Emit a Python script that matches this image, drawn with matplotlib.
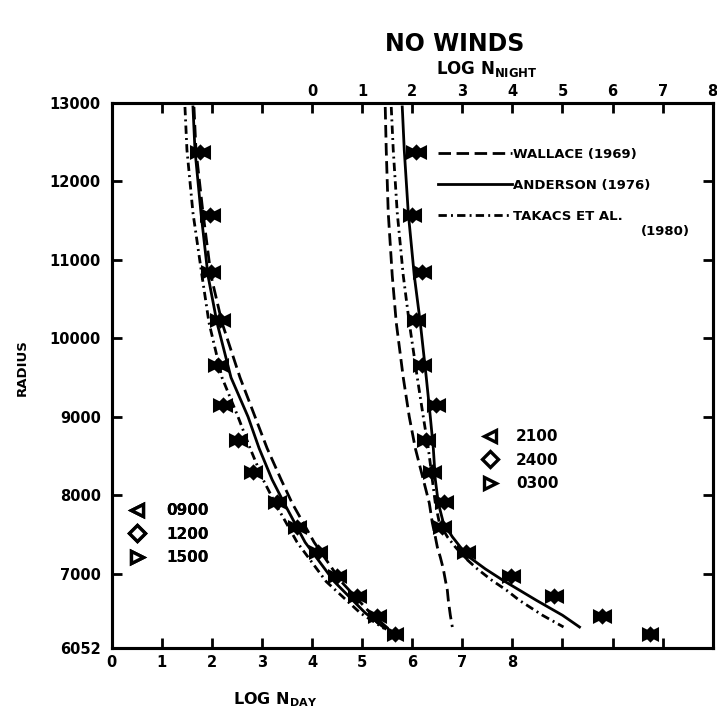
import matplotlib
matplotlib.use("Agg")
import matplotlib.pyplot as plt

plt.rcParams['font.family'] = ['DejaVu Sans']
plt.rcParams['font.weight'] = 'bold'
plt.rcParams['mathtext.fontset'] = 'dejavusans'

# ---------------- data ----------------
# model curves, day side (bottom axis: LOG N_DAY)
day_curve_radius = [12950, 12400, 11600, 10800, 10200, 9500, 9000, 8600, 8200, 7900, 7400, 6900, 6500, 6300]
day_wallace  = [1.64, 1.68, 1.82, 1.98, 2.20, 2.56, 2.86, 3.10, 3.38, 3.60, 4.04, 4.58, 5.16, 5.52]
day_anderson = [1.62, 1.66, 1.78, 1.92, 2.10, 2.38, 2.72, 2.94, 3.20, 3.44, 3.86, 4.44, 5.06, 5.46]
day_takacs   = [1.46, 1.50, 1.62, 1.80, 1.94, 2.20, 2.52, 2.76, 3.02, 3.26, 3.70, 4.28, 4.96, 5.44]

# model curves, night side (top axis: LOG N_NIGHT)
night_curve_radius = [12950, 12400, 11600, 10800, 10200, 9500, 9000, 8600, 8200, 7900, 7650, 7470,
                      7340, 7210, 7060, 6920, 6790, 6660, 6470, 6320]
night_wallace  = [1.46, 1.48, 1.52, 1.60, 1.68, 1.82, 1.94, 2.06, 2.22, 2.34, 2.40, 2.46,
                  2.50, 2.56, 2.62, 2.66, 2.70, 2.72, 2.76, 2.80]
night_anderson = [1.80, 1.84, 1.92, 2.04, 2.16, 2.28, 2.36, 2.42, 2.46, 2.52, 2.62, 2.80,
                  2.96, 3.14, 3.46, 3.80, 4.14, 4.48, 5.00, 5.34]
night_takacs   = [1.58, 1.62, 1.70, 1.82, 1.94, 2.10, 2.22, 2.32, 2.40, 2.46, 2.54, 2.70,
                  2.86, 3.04, 3.30, 3.58, 3.88, 4.14, 4.60, 5.02]

# observed points (radius levels shared by all local times)
obs_radius = [12380, 11570, 10840, 10240, 9660, 9150, 8700, 8290, 7920, 7600, 7280, 6975, 6715, 6460, 6235]
day_0900 = [1.84, 2.04, 2.04, 2.24, 2.20, 2.28, 2.58, 2.88, 3.36, 3.76, 4.18, 4.56, 4.96, 5.36, 5.70]
day_1200 = [1.76, 1.96, 1.98, 2.16, 2.12, 2.22, 2.52, 2.82, 3.30, 3.70, 4.12, 4.50, 4.90, 5.30, 5.66]
day_1500 = [1.68, 1.88, 1.90, 2.08, 2.04, 2.14, 2.46, 2.76, 3.24, 3.64, 4.06, 4.44, 4.84, 5.24, 5.62]
night_2100 = [2.16, 2.06, 2.26, 2.14, 2.26, 2.54, 2.34, 2.46, 2.70, 2.66, 3.14, 4.04, 4.90, 5.84, 6.78]
night_2400 = [2.08, 2.00, 2.20, 2.08, 2.20, 2.48, 2.28, 2.40, 2.64, 2.60, 3.08, 3.98, 4.84, 5.78, 6.74]
night_0300 = [2.00, 1.94, 2.14, 2.02, 2.14, 2.42, 2.22, 2.34, 2.58, 2.54, 3.02, 3.92, 4.78, 5.72, 6.70]

model_labels = ["WALLACE (1969)", "ANDERSON (1976)", "TAKACS ET AL."]
model_label_extra = "(1980)"
day_labels = ["0900", "1200", "1500"]
night_labels = ["2100", "2400", "0300"]

y_ticks = [6052, 7000, 8000, 9000, 10000, 11000, 12000, 13000]
y_tick_labels = ["6052", "7000", "8000", "9000", "10000", "11000", "12000", "13000"]
bottom_ticks = list(range(0, 13))
bottom_tick_labels = ["0", "1", "2", "3", "4", "5", "6", "7", "8", "", "", "", ""]
top_ticks = list(range(-4, 9))
top_tick_labels = ["", "", "", "", "0", "1", "2", "3", "4", "5", "6", "7", "8"]

# ---------------- styles ----------------
LW = 2.0
ST_WALLACE = (0, (4.5, 2.0))
ST_ANDERSON = '-'
ST_TAKACS = (0, (3.0, 1.5, 0.7, 1.5))
MS = 7.5
MEW = 2.2

fig = plt.figure(figsize=(7.17, 7.19), dpi=100)
ax = fig.add_axes([0.156, 0.0987, 0.838, 0.758])
ax.set_xlim(0, 12)
ax.set_ylim(6052, 13000)
ax2 = ax.twiny()
ax2.set_xlim(-4, 8)

for a in (ax, ax2):
    for s in a.spines.values():
        s.set_linewidth(2.2)

# day curves
ax.plot(day_wallace, day_curve_radius, color='black', lw=LW, linestyle=ST_WALLACE)
ax.plot(day_anderson, day_curve_radius, color='black', lw=LW, linestyle=ST_ANDERSON)
ax.plot(day_takacs, day_curve_radius, color='black', lw=LW, linestyle=ST_TAKACS)
# night curves
h_w, = ax2.plot(night_wallace, night_curve_radius, color='black', lw=LW, linestyle=ST_WALLACE)
h_a, = ax2.plot(night_anderson, night_curve_radius, color='black', lw=LW, linestyle=ST_ANDERSON)
h_t, = ax2.plot(night_takacs, night_curve_radius, color='black', lw=LW, linestyle=ST_TAKACS)

mk = dict(linestyle='none', color='black', mfc='black', mec='black', ms=MS, mew=MEW, zorder=5)
d1, = ax.plot(day_0900, obs_radius, marker='<', **mk)
d2, = ax.plot(day_1200, obs_radius, marker='D', **dict(mk, ms=MS - 1.5))
d3, = ax.plot(day_1500, obs_radius, marker='>', **mk)
n1, = ax2.plot(night_2100, obs_radius, marker='<', **mk)
n2, = ax2.plot(night_2400, obs_radius, marker='D', **dict(mk, ms=MS - 1.5))
n3, = ax2.plot(night_0300, obs_radius, marker='>', **mk)

# ticks
ax.set_xticks(bottom_ticks)
ax.set_xticklabels(bottom_tick_labels)
ax.set_yticks(y_ticks)
ax.set_yticklabels(y_tick_labels)
ax.tick_params(axis='both', direction='in', length=7, width=2, labelsize=10.5)
ax.tick_params(axis='x', pad=5)
ax.tick_params(axis='y', right=True, pad=8)
ax2.set_xticks(top_ticks)
ax2.set_xticklabels(top_tick_labels)
ax2.tick_params(axis='x', direction='in', length=7, width=2, labelsize=10.5, pad=3)

# axis titles
fig.text(455 / 717, 1 - 44 / 719, "NO WINDS", ha='center', va='center', fontsize=17, fontweight='bold')
fig.text(487 / 717, 1 - 69 / 719, r"LOG N$_{\mathbf{NIGHT}}$", ha='center', va='center', fontsize=12, fontweight='bold')
fig.text(275 / 717, 1 - 700 / 719, r"LOG N$_{\mathbf{DAY}}$", ha='center', va='center', fontsize=11.5, fontweight='bold')
fig.text(22 / 717, 1 - 368 / 719, "RADIUS", ha='center', va='center', rotation=90, fontsize=9.5, fontweight='bold')

# legends
leg1 = ax2.legend([h_w, h_a, h_t], model_labels, loc='upper left',
                  bbox_to_anchor=((438 - 112) / 601, (648 - 148) / 545),
                  frameon=False, fontsize=9.5, handlelength=5.6, handletextpad=0.1,
                  labelspacing=1.35, borderpad=0, borderaxespad=0)
for l in leg1.get_lines():
    l.set_linewidth(LW)
ax2.add_artist(leg1)
ax2.text((690 - 112) / 601, (648 - 231) / 545, model_label_extra, transform=ax2.transAxes,
         ha='right', va='center', fontsize=9.5, fontweight='bold')

leg2 = ax.legend([d1, d2, d3], day_labels, loc='upper left',
                 bbox_to_anchor=((128 - 112) / 601, (648 - 503) / 545),
                 frameon=False, fontsize=11, handlelength=1.2, handletextpad=1.3,
                 labelspacing=0.56, borderpad=0, borderaxespad=0)
ax.add_artist(leg2)
leg3 = ax2.legend([n1, n2, n3], night_labels, loc='upper left',
                  bbox_to_anchor=((481 - 112) / 601, (648 - 429) / 545),
                  frameon=False, fontsize=11, handlelength=1.2, handletextpad=1.1,
                  labelspacing=0.56, borderpad=0, borderaxespad=0)
for lg in (leg2, leg3):
    for h in lg.legend_handles:
        h.set_markerfacecolor('white')
        h.set_markersize(8)
        h.set_markeredgewidth(2.4)

fig.savefig("out.png", dpi=100)
